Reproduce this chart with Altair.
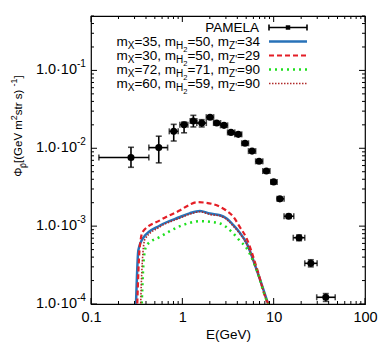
import altair as alt
import pandas as pd

# ---------------- data ----------------
# PAMELA antiproton flux
E = [0.274, 0.552, 0.805, 1.045, 1.32, 1.63, 2.01, 2.38, 2.86, 3.41, 4.10, 4.86,
     5.80, 6.92, 8.32, 10.0, 11.7, 14.6, 18.97, 25.5, 37.2]
flux = [0.0076, 0.0102, 0.0165, 0.0201, 0.0224, 0.0211, 0.0251, 0.0211, 0.0197, 0.0160,
        0.0151, 0.0116, 0.0092, 0.0068, 0.0051, 0.0037, 0.00224, 0.00134, 0.00071,
        0.000333, 0.000122]
E_lo = [0.122, 0.43, 0.72, 0.94, 1.22, 1.44, 1.83, 2.2, 2.62, 3.13, 3.75, 4.47,
        5.3, 6.35, 7.6, 9.3, 10.9, 13.0, 16.4, 21.9, 29.6]
E_hi = [0.43, 0.69, 0.90, 1.15, 1.44, 1.83, 2.2, 2.62, 3.13, 3.75, 4.47, 5.3,
        6.35, 7.6, 9.1, 10.9, 13.0, 16.6, 21.9, 29.9, 47.2]
flux_lo = [0.0057, 0.0065, 0.0124, 0.0158, 0.0188, 0.0188, 0.0240, 0.0202, 0.0189, 0.0153,
           0.0144, 0.0111, 0.0088, 0.0065, 0.0049, 0.00355, 0.00213, 0.00126, 0.00065,
           0.00030, 0.000108]
flux_hi = [0.0103, 0.0143, 0.0203, 0.0217, 0.0265, 0.0233, 0.0262, 0.0220, 0.0205, 0.0167,
           0.0158, 0.0121, 0.0096, 0.0071, 0.0053, 0.00385, 0.00235, 0.00142, 0.00077,
           0.00037, 0.000136]

# model curves
E_blue = [0.305, 0.311, 0.33, 0.374, 0.57, 0.944, 1.2, 1.56, 2.0, 2.59, 3.0, 3.62, 4.2, 5.07, 6.53, 8.4, 8.7, 9.0]
f_blue = [5e-5, 1e-4, 4.9e-4, 7.1e-4, 1.02e-3, 1.31e-3, 1.46e-3, 1.57e-3, 1.45e-3, 1.38e-3, 1.27e-3,
          1.03e-3, 8.4e-4, 6.0e-4, 2.73e-4, 1.13e-4, 1e-4, 6e-5]
E_red = [0.315, 0.321, 0.34, 0.368, 0.57, 0.944, 1.2, 1.45, 1.8, 2.59, 3.0, 3.62, 4.2, 5.07, 6.53, 8.4, 8.7, 9.0]
f_red = [5e-5, 1e-4, 5e-4, 8.45e-4, 1.19e-3, 1.6e-3, 1.88e-3, 2.03e-3, 2.0e-3, 1.77e-3, 1.6e-3,
         1.32e-3, 1.0e-3, 6.9e-4, 2.9e-4, 1.1e-4, 1e-4, 6e-5]
E_green = [0.352, 0.359, 0.38, 0.407, 0.57, 0.944, 1.2, 1.56, 2.0, 2.59, 3.0, 3.62, 4.2, 5.07, 6.53, 8.4, 8.7, 9.0]
f_green = [5e-5, 1e-4, 4e-4, 5.7e-4, 7.3e-4, 1.0e-3, 1.1e-3, 1.16e-3, 1.14e-3, 1.08e-3, 9.8e-4,
           8.05e-4, 6.6e-4, 5.2e-4, 2.7e-4, 1.1e-4, 1e-4, 6e-5]
E_brown = [0.345, 0.35, 0.37, 0.39, 0.57, 0.944, 1.2, 1.56, 2.0, 2.59, 3.0, 3.62, 4.2, 5.07, 6.53, 8.4, 8.7, 9.0]
f_brown = [5e-5, 1e-4, 4.5e-4, 6.8e-4, 9.8e-4, 1.27e-3, 1.42e-3, 1.53e-3, 1.41e-3, 1.35e-3, 1.24e-3,
           1.0e-3, 8.2e-4, 5.9e-4, 2.7e-4, 1.1e-4, 1e-4, 6e-5]

# legend labels
mX = [35, 30, 72, 60]
mH2 = [50, 50, 71, 59]
mZp = [34, 29, 90, 90]

# axis ticks
x_major = [0.1, 1, 10, 100]
x_minor = [k * d for d in (0.1, 1, 10) for k in range(2, 10)]
y_major = [1e-4, 1e-3, 1e-2, 1e-1]
y_minor = [k * d for d in (1e-4, 1e-3, 1e-2, 1e-1) for k in range(2, 10) if k * d <= 0.5]
y_label_exp = ["-4", "-3", "-2", "-1"]

# ---------------- styling ----------------
W, H = 274, 288
FONT = "Liberation Sans"
colors = ["#2872b8", "#e41e26", "#1ee01e", "#b02a2a"]
dashes = [None, [5, 3], [2, 4], [1.5, 1.5]]
widths = [2.5, 2.2, 2.5, 1.6]

xs = alt.Scale(type="log", domain=[0.1, 100], nice=False)
ys = alt.Scale(type="log", domain=[1e-4, 0.5], nice=False)

pam = pd.DataFrame(dict(E=E, f=flux, Elo=E_lo, Ehi=E_hi, flo=flux_lo, fhi=flux_hi))
base = alt.Chart(pam)

hbar = base.mark_rule(color="black", strokeWidth=1.6, clip=True).encode(
    x=alt.X("Elo:Q", scale=xs, axis=alt.Axis(values=x_major, format="~g", ticks=False, domain=False,
                                             grid=False, labelFontSize=14.5, labelFont=FONT,
                                             labelPadding=6, labelColor="black", labelFlush=False,
                                             labelOverlap=False,
                                             title="E(GeV)", titleFont=FONT, titleFontSize=13.5,
                                             titleFontWeight="normal", titlePadding=4,
                                             titleColor="black")),
    x2="Ehi:Q", y=alt.Y("f:Q", scale=ys, axis=None))
vbar = base.mark_rule(color="black", strokeWidth=1.6, clip=True).encode(
    x="E:Q", y="flo:Q", y2="fhi:Q")
cap_l = base.mark_tick(color="black", orient="vertical", size=6, thickness=1.6).encode(x="Elo:Q", y="f:Q")
cap_r = base.mark_tick(color="black", orient="vertical", size=6, thickness=1.6).encode(x="Ehi:Q", y="f:Q")
cap_b = base.mark_tick(color="black", orient="horizontal", size=6, thickness=1.6).encode(x="E:Q", y="flo:Q")
cap_t = base.mark_tick(color="black", orient="horizontal", size=6, thickness=1.6).encode(x="E:Q", y="fhi:Q")
pts = base.mark_point(shape="circle", filled=True, color="black", size=50, opacity=1).encode(x="E:Q", y="f:Q")

curve_layers = []
for (ce, cf), col, da, wd in zip([(E_blue, f_blue), (E_red, f_red), (E_green, f_green), (E_brown, f_brown)],
                                 colors, dashes, widths):
    df = pd.DataFrame(dict(E=ce, f=cf))
    kw = dict(color=col, strokeWidth=wd, clip=True, interpolate="monotone")
    if da:
        kw["strokeDash"] = da
    curve_layers.append(alt.Chart(df).mark_line(**kw).encode(x="E:Q", y="f:Q"))

# inward ticks on all four sides
def xt(vals, L):
    d = alt.Chart(pd.DataFrame(dict(E=vals)))
    return [d.mark_rule(color="black", strokeWidth=1).encode(x="E:Q", y=alt.value(H), y2=alt.value(H - L)),
            d.mark_rule(color="black", strokeWidth=1).encode(x="E:Q", y=alt.value(0), y2=alt.value(L))]

def yt(vals, L):
    d = alt.Chart(pd.DataFrame(dict(f=vals)))
    return [d.mark_rule(color="black", strokeWidth=1).encode(y="f:Q", x=alt.value(0), x2=alt.value(L)),
            d.mark_rule(color="black", strokeWidth=1).encode(y="f:Q", x=alt.value(W), x2=alt.value(W - L))]

tick_layers = xt(x_major, 6) + xt(x_minor, 3) + yt(y_major, 6) + yt(y_minor, 3)

# y tick labels 1.0·10^n
ylab = pd.DataFrame(dict(f=y_major, ex=y_label_exp))
ylab_main = alt.Chart(ylab).mark_text(align="right", baseline="middle", font=FONT, fontSize=14.5,
                                      color="black").encode(
    y="f:Q", x=alt.value(-14), text=alt.value("1.0·10"))
ylab_exp = alt.Chart(ylab).mark_text(align="left", baseline="middle", font=FONT, fontSize=10,
                                     color="black", dy=-6).encode(
    y="f:Q", x=alt.value(-14), text="ex:N")

# ---------------- rich text (sub/superscripts) ----------------
AW = {'m': 833, 'X': 667, '=': 584, ',': 278, ' ': 278, 'H': 722, 'Z': 611, "'": 191,
      'P': 667, 'A': 667, 'M': 833, 'E': 667, 'L': 556, 'Φ': 764, '[': 278, '(': 333,
      ')': 333, ']': 278, 'G': 778, 'e': 556, 'V': 667, 's': 500, 't': 278, 'r': 333,
      '-': 333, 'p': 556, '.': 278, '\u0304': 0}

def tw(s, fs):
    return sum(AW.get(c, 556) for c in s) * fs / 1000.0

MAIN, SUB, SUBSUB = 13.5, 10, 7.5
LEVEL = {0: (MAIN, 0), 1: (SUB, 4.5), 2: (SUBSUB, 8.5), -1: (SUB, -5.5)}

rows = [[("PAMELA", 0)]]
for a, b, c in zip(mX, mH2, mZp):
    rows.append([("m", 0), ("X", 1), ("=%d, m" % a, 0), ("H", 1), ("2", 2),
                 ("=%d, m" % b, 0), ("Z'", 1), ("=%d" % c, 0)])

row_y = [11.5, 25.5, 39.5, 53.5, 67.5]
right_end = 169
recs = []
for segs, yy in zip(rows, row_y):
    total = sum(tw(t, LEVEL[l][0]) for t, l in segs)
    x = right_end - total
    for t, l in segs:
        fs, dy = LEVEL[l]
        recs.append(dict(px=x, py=yy + dy, t=t, fs=fs, ang=0))
        x += tw(t, fs)

# y title: Φ_p̄[(GeV m^2 str s)^-1], rotated
ytitle = [("Φ", 0), ("p\u0304", 1), ("[(GeV m", 0), ("2", -1), (" str s)", 0), ("-1", -1), ("]", 0)]
YT_MAIN = 11.5
YL = {0: (YT_MAIN, 0), 1: (9, 4), -1: (9, -5)}
tot = sum(tw(t, YL[l][0]) for t, l in ytitle)
cx, cy = -72, 110
pos = cy + tot / 2
for t, l in ytitle:
    fs, dy = YL[l]
    recs.append(dict(px=cx + dy, py=pos, t=t, fs=fs, ang=270))
    pos -= tw(t, fs)

rich = pd.DataFrame(recs)
rich_h = alt.Chart(rich[rich.ang == 0]).mark_text(align="left", baseline="middle", font=FONT,
                                                  color="black").encode(
    x=alt.X("px:Q", scale=None), y=alt.Y("py:Q", scale=None), text="t:N",
    size=alt.Size("fs:Q", scale=None, legend=None))
rich_v = alt.Chart(rich[rich.ang == 270]).mark_text(align="left", baseline="middle", font=FONT,
                                                    color="black", angle=270).encode(
    x=alt.X("px:Q", scale=None), y=alt.Y("py:Q", scale=None), text="t:N",
    size=alt.Size("fs:Q", scale=None, legend=None))

# legend samples
LX1, LX2 = 178, 216
leg = pd.DataFrame(dict(i=[0]))
legc = alt.Chart(leg)
leg_layers = [
    legc.mark_rule(color="black", strokeWidth=1.6).encode(x=alt.value(LX1), x2=alt.value(LX2), y=alt.value(row_y[0])),
    legc.mark_rule(color="black", strokeWidth=1.6).encode(x=alt.value(LX1), y=alt.value(row_y[0] - 3), y2=alt.value(row_y[0] + 3)),
    legc.mark_rule(color="black", strokeWidth=1.6).encode(x=alt.value(LX2), y=alt.value(row_y[0] - 3), y2=alt.value(row_y[0] + 3)),
    legc.mark_point(shape="square", filled=True, color="black", size=20, opacity=1).encode(
        x=alt.value((LX1 + LX2) / 2), y=alt.value(row_y[0])),
]
for k in range(4):
    kw = dict(color=colors[k], strokeWidth=widths[k])
    if dashes[k]:
        kw["strokeDash"] = dashes[k]
    leg_layers.append(legc.mark_rule(**kw).encode(x=alt.value(LX1), x2=alt.value(LX2), y=alt.value(row_y[k + 1])))

chart = alt.layer(
    hbar, *curve_layers, vbar, cap_l, cap_r, cap_b, cap_t, pts,
    *tick_layers, ylab_main, ylab_exp, rich_h, rich_v, *leg_layers
).properties(
    width=W, height=H, autosize="none",
    padding={"left": 83, "top": 8, "right": 17, "bottom": 41},
    background="white",
).configure_view(stroke="black", strokeWidth=1.2)

chart.save("out.html", embed_options={"renderer": "svg", "actions": False})
